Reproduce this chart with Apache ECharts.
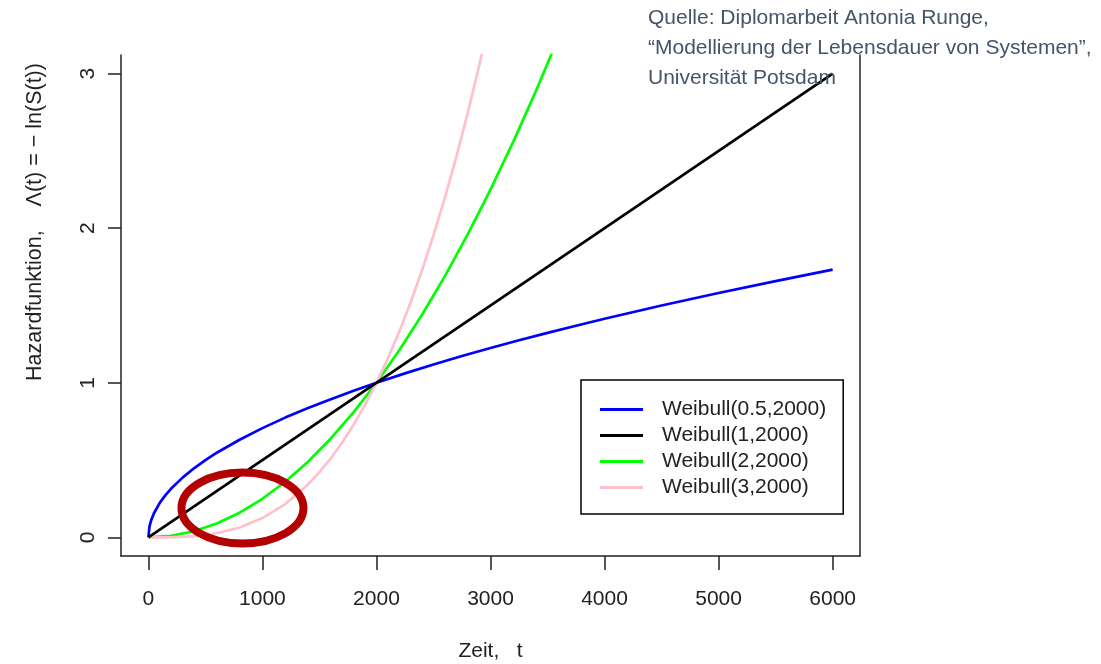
<!doctype html>
<html>
<head>
    <meta charset="utf-8">
    <title>Hazardfunktion Weibull</title>
    <script src="https://cdn.jsdelivr.net/npm/echarts@6/dist/echarts.min.js"></script>
</head>
<body style="margin:0;padding:0;background:#fff;">
    <div id="tb" style="width:1101px;height:664px;"></div>
    <script>
        // Werte
        var xTicks = [0, 1000, 2000, 3000, 4000, 5000, 6000];
        var yTicks = [0, 1, 2, 3];
        var names = ['Weibull(0.5,2000)', 'Weibull(1,2000)', 'Weibull(2,2000)', 'Weibull(3,2000)'];

        var tBlue = [0, 10, 25, 50, 100, 150, 200, 300, 400, 500, 600, 800, 1000, 1200, 1400, 1600, 1800, 2000, 2250, 2500, 2750, 3000, 3250, 3500, 3750, 4000, 4500, 5000, 5500, 6000];
        var blueVals = [0, 0.071, 0.112, 0.158, 0.224, 0.274, 0.316, 0.387, 0.447, 0.5, 0.548, 0.632, 0.707, 0.775, 0.837, 0.894, 0.949, 1, 1.061, 1.118, 1.173, 1.225, 1.275, 1.323, 1.369, 1.414, 1.5, 1.581, 1.658, 1.732];

        var tBlack = [0, 6000];
        var blackVals = [0, 3];

        var tGreen = [0, 200, 400, 600, 800, 1000, 1200, 1400, 1600, 1800, 2000, 2200, 2400, 2600, 2800, 3000, 3200, 3400, 3600];
        var greenVals = [0, 0.01, 0.04, 0.09, 0.16, 0.25, 0.36, 0.49, 0.64, 0.81, 1, 1.21, 1.44, 1.69, 1.96, 2.25, 2.56, 2.89, 3.24];

        var tPink = [0, 200, 400, 600, 800, 1000, 1200, 1400, 1500, 1600, 1700, 1800, 1900, 2000, 2100, 2200, 2300, 2400, 2500, 2600, 2700, 2800, 2900, 3000];
        var pinkVals = [0, 0.001, 0.008, 0.027, 0.064, 0.125, 0.216, 0.343, 0.422, 0.512, 0.614, 0.729, 0.857, 1, 1.158, 1.331, 1.521, 1.728, 1.953, 2.197, 2.46, 2.744, 3.049, 3.375];

        var colors = ['#0000ff', '#000000', '#00ff00', '#ffc0cb'];

        function pairs(ts, vs) {
            return ts.map(function (t, i) { return [t, vs[i]]; });
        }
        var seriesData = [pairs(tBlue, blueVals), pairs(tBlack, blackVals), pairs(tGreen, greenVals), pairs(tPink, pinkVals)];

        var font = '"Liberation Sans", Arial, sans-serif';
        var axisCol = '#222';
        var fs = 21;

        var chart = echarts.init(document.getElementById('tb'));
        chart.setOption({
            animation: false,
            color: colors,
            grid: { left: 121, right: 241, top: 55, bottom: 108, containLabel: false, outerBoundsMode: 'none' },
            xAxis: {
                type: 'value',
                min: -240,
                max: 6240,
                axisLine: { show: true, onZero: false, lineStyle: { color: axisCol, width: 1.5 } },
                axisTick: { show: true, inside: false, length: 14, customValues: xTicks, lineStyle: { color: axisCol, width: 1.5 } },
                axisLabel: {
                    customValues: xTicks, margin: 33, color: axisCol, fontSize: fs, fontFamily: font,
                    formatter: function (v) { return String(v); }
                },
                splitLine: { show: false },
                name: 'Zeit,   t',
                nameLocation: 'middle',
                nameGap: 85,
                nameTextStyle: { color: axisCol, fontSize: fs, fontFamily: font }
            },
            yAxis: [{
                type: 'value',
                min: -0.12,
                max: 3.12,
                axisLine: { show: true, onZero: false, lineStyle: { color: axisCol, width: 1.5 } },
                axisTick: { show: true, inside: false, length: 13, customValues: yTicks, lineStyle: { color: axisCol, width: 1.5 } },
                axisLabel: { customValues: yTicks, rotate: 90, margin: 22, color: axisCol, fontSize: fs, fontFamily: font },
                splitLine: { show: false }
            }, {
                type: 'value',
                position: 'right',
                min: -0.12,
                max: 3.12,
                axisLine: { show: true, onZero: false, lineStyle: { color: axisCol, width: 1.5 } },
                axisTick: { show: false },
                axisLabel: { show: false },
                splitLine: { show: false }
            }],
            legend: {
                orient: 'vertical',
                left: 581,
                top: 380,
                data: names,
                icon: 'rect',
                itemWidth: 43,
                itemHeight: 3,
                itemGap: 5,
                padding: [19, 17, 16, 19],
                borderColor: '#000',
                borderWidth: 1.5,
                borderRadius: 0,
                backgroundColor: '#fff',
                textStyle: { color: axisCol, fontSize: fs, fontFamily: font, padding: [0, 0, 0, 14] }
            },
            series: names.map(function (n, i) {
                return {
                    name: n,
                    type: 'line',
                    data: seriesData[i],
                    showSymbol: false,
                    smooth: false,
                    clip: true,
                    z: 2 + (i === 1 ? 1 : 0),
                    lineStyle: { width: 2.7, color: colors[i] }
                };
            }),
            graphic: [{
                type: 'text',
                left: 648,
                top: 3,
                z: 10,
                style: {
                    text: 'Quelle: Diplomarbeit Antonia Runge,\n\u201cModellierung der Lebensdauer von Systemen\u201d,\nUniversit\u00e4t Potsdam',
                    fill: '#44546a',
                    fontSize: fs,
                    fontFamily: font,
                    lineHeight: 30
                }
            }, {
                type: 'text',
                x: 35,
                y: 222,
                rotation: Math.PI / 2,
                style: {
                    text: 'Hazardfunktion,    \u039b(t) = \u2212 ln(S(t))',
                    fill: axisCol,
                    fontSize: 21.5,
                    fontFamily: font,
                    align: 'center',
                    verticalAlign: 'middle'
                }
            }]
        });

        // roter Kreis um den Bereich bei kleinen t
        var c = chart.convertToPixel({ gridIndex: 0 }, [825, 0.19]);
        chart.setOption({
            graphic: [{}, {}, {
                type: 'ellipse',
                z: 20,
                shape: { cx: c[0], cy: c[1], rx: 61, ry: 35.5 },
                style: { fill: 'none', stroke: '#b30000', lineWidth: 8 }
            }]
        });
    </script>
</body>
</html>
